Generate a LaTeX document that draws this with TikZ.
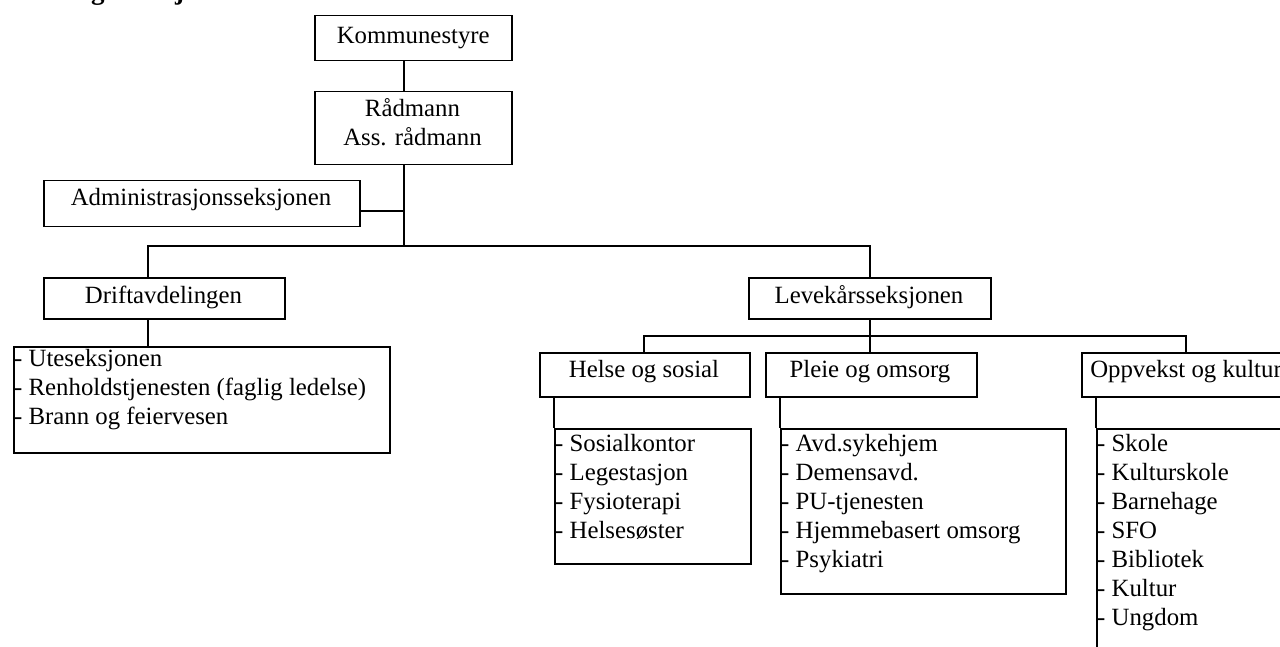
\documentclass[tikz,border=0pt]{standalone}
\usepackage{fontspec}
\setmainfont{Liberation Serif}
\begin{document}
\begin{tikzpicture}[x=1pt,y=-1pt,
  box/.style={draw, line width=1.5pt, inner sep=0pt, anchor=north west},
  txt/.style={font=\fontsize{24.8}{29}\selectfont, inner sep=0pt},
  lst/.style={txt, align=left, anchor=north west},
  conn/.style={line width=1.5pt}]
\useasboundingbox (0,0) rectangle (1280,647);
\clip (0,0) rectangle (1280,647);

% title (cut off at the top)
\node[font=\bfseries\fontsize{27}{30}\selectfont, anchor=base west, inner sep=0pt] (title) at (58,-0.5) {Organisasjonskart};

% boxes
\node[box, minimum width=197pt, minimum height=45pt] (k) at (314,15) {};
\node[txt] (kt) at (k.center) {Kommunestyre};

\node[box, minimum width=197pt, minimum height=73pt] (r) at (314,91) {};
\node[txt, align=center] (rt) at (412.5,122) {Rådmann\\Ass. rådmann};

\node[box, minimum width=316pt, minimum height=46pt] (a) at (43,180) {};
\node[txt] (at) at (201,200) {Administrasjonsseksjonen};

\node[box, minimum width=241pt, minimum height=41pt] (d) at (43,277) {};
\node[txt] (dt) at (163.5,297) {Driftavdelingen};

\node[box, minimum width=376pt, minimum height=106pt] (dl) at (13,346) {};
\node[lst] (dlt) at (14,349.5) {- Uteseksjonen\\- Renholdstjenesten (faglig ledelse)\\- Brann og feiervesen};

\node[box, minimum width=242pt, minimum height=41pt] (lv) at (748,277) {};
\node[txt] (lvt) at (869,297) {Levekårsseksjonen};

\node[box, minimum width=210pt, minimum height=44pt] (hs) at (539,352) {};
\node[txt] (hst) at (644,372) {Helse og sosial};

\node[box, minimum width=211pt, minimum height=44pt] (po) at (765,352) {};
\node[txt] (pot) at (870,372) {Pleie og omsorg};

\node[box, minimum width=211pt, minimum height=44pt] (op) at (1081,352) {};
\node[txt] (opt) at (1186,372) {Oppvekst og kultur};

\node[box, minimum width=196pt, minimum height=135pt] (hl) at (554,428) {};
\node[lst] (hlt) at (555,434) {- Sosialkontor\\- Legestasjon\\- Fysioterapi\\- Helsesøster};

\node[box, minimum width=285pt, minimum height=165pt] (pl) at (780,428) {};
\node[lst] (plt) at (781,434) {- Avd.sykehjem\\- Demensavd.\\- PU-tjenesten\\- Hjemmebasert omsorg\\- Psykiatri};

\node[box, minimum width=220pt, minimum height=240pt] (ol) at (1096,428) {};
\node[lst] (olt) at (1097,434) {- Skole\\- Kulturskole\\- Barnehage\\- SFO\\- Bibliotek\\- Kultur\\- Ungdom};

% connectors
\coordinate (t1) at (404,246);
\coordinate (aj) at (404,211);
\coordinate (h1) at (148,246);
\coordinate (h2) at (870,246);
\coordinate (v1) at (644,336);
\coordinate (v2) at (1186,336);

\draw[conn] (k.south -| t1) -- (r.north -| t1);
\draw[conn] (r.south -| t1) -- (t1);
\draw[conn] (a.east |- aj) -- (aj);
\draw[conn] (h1 |- d.north) -- (h1) -- (h2) -- (h2 |- lv.north);
\draw[conn] (h1 |- d.south) -- (h1 |- dl.north);
\draw[conn] (lv.south -| h2) -- (h2 |- po.north);
\draw[conn] (v1 |- hs.north) -- (v1) -- (v2) -- (v2 |- op.north);
\draw[conn] (hs.south -| hl.west) -- (hl.north west);
\draw[conn] (po.south -| pl.west) -- (pl.north west);
\draw[conn] (op.south -| ol.west) -- (ol.north west);
\end{tikzpicture}
\end{document}
